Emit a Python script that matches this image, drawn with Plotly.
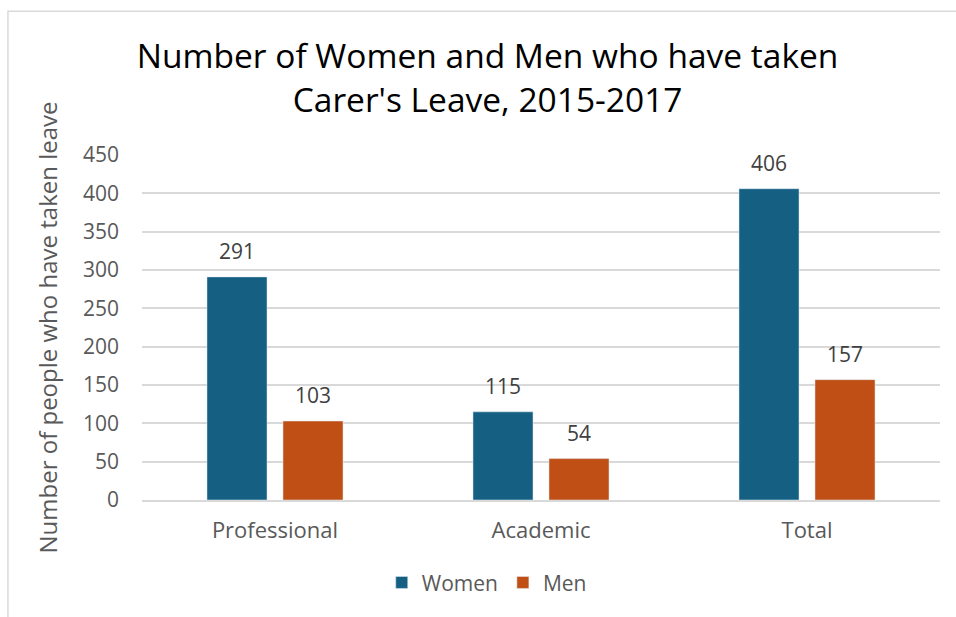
import plotly.graph_objects as go

categories = ["Professional", "Academic", "Total"]
women = [291, 115, 406]
men = [103, 54, 157]
y_ticks = [0, 50, 100, 150, 200, 250, 300, 350, 400, 450]

FONT = "Open Sans"
GRAY = "#595959"
BARGAP = 0.4286
SLOT = (1 - BARGAP) / 2  # width of one bar slot inside a category, in category units

fig = go.Figure()
fig.add_trace(go.Bar(name="Women", x=categories, y=women, marker_color="#156082"))
fig.add_trace(go.Bar(name="Men", x=categories, y=men, marker_color="#C04F15"))

# value labels above each bar, centred over its slot
for offset, values in ((-SLOT / 2, women), (SLOT / 2, men)):
    for i, v in enumerate(values):
        fig.add_annotation(
            x=i + offset, y=v, xref="x", yref="y", text=str(v), showarrow=False,
            yanchor="bottom", yshift=10,
            font=dict(size=21, color="#404040", family=FONT),
        )

fig.update_layout(
    width=956, height=617,
    margin=dict(l=142, r=16, t=155, b=117),
    paper_bgcolor="white", plot_bgcolor="white",
    font=dict(family=FONT, color=GRAY),
    barmode="group", bargap=BARGAP, bargroupgap=0.21,
    title=dict(
        text="Number of Women and Men who have taken<br>Carer's Leave, 2015-2017",
        x=0.51, xanchor="center", y=0.889, yanchor="top",
        font=dict(size=33.5, color="#000000", family=FONT),
    ),
    legend=dict(
        orientation="h", x=0.432, xanchor="center", y=-0.24, yanchor="middle",
        font=dict(size=21, color=GRAY, family=FONT),
        itemwidth=30, traceorder="normal",
    ),
)

fig.update_yaxes(
    range=[0, 450], tickvals=y_ticks, showgrid=True, gridcolor="#D9D9D9", gridwidth=1.5,
    zeroline=False, showline=False, tickfont=dict(size=21, color=GRAY),
    ticks="", ticklabelstandoff=22,
    title=dict(text="Number of people who have taken leave", font=dict(size=24, color=GRAY), standoff=18),
)
fig.update_xaxes(
    showline=True, linecolor="#D9D9D9", linewidth=1.5, ticks="",
    tickfont=dict(size=22, color=GRAY), ticklabelstandoff=10,
)

# light chart-area border (right and bottom edges fall outside the page)
fig.add_shape(type="rect", xref="paper", yref="paper",
              x0=-0.168, x1=1.06, y0=-0.45, y1=1.417,
              line=dict(color="#D9D9D9", width=1.5), layer="below")

fig.write_html("out.html")
